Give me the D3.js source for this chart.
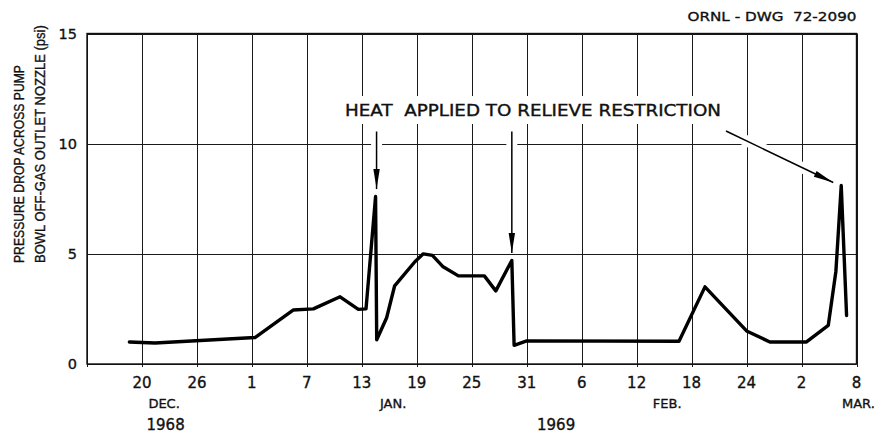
<!DOCTYPE html>
<html>
<head>
<meta charset="utf-8">
<script src="https://cdn.jsdelivr.net/npm/d3@7"></script>
<style>
  html, body { margin: 0; padding: 0; background: #fff; }
  svg { display: block; }
  text { font-family: "DejaVu Sans", "Liberation Sans", sans-serif; fill: #111; stroke: #111; stroke-width: 0.35px; }
  text.ylab { font-family: "Liberation Sans", Arial, sans-serif; }
</style>
</head>
<body>
<svg id="chart" width="884" height="438"></svg>
<script>
// Pressure drop across the pump bowl off-gas outlet nozzle, Dec 1968 – Mar 1969
const readingTimes = [
  "1968-12-18T15", "1968-12-21T10", "1969-01-01T08", "1969-01-05T12",
  "1969-01-07T17", "1969-01-10T15", "1969-01-12T15", "1969-01-13T11",
  "1969-01-14T12", "1969-01-14T15", "1969-01-15T17", "1969-01-16T14",
  "1969-01-18T19", "1969-01-19T17", "1969-01-20T17", "1969-01-21T21",
  "1969-01-23T13", "1969-01-26T09", "1969-01-27T15", "1969-01-29T09",
  "1969-01-29T15", "1969-01-31T00", "1969-02-16T15", "1969-02-19T11",
  "1969-02-24T00", "1969-02-26T13", "1969-03-02T13", "1969-03-04T22",
  "1969-03-05T18", "1969-03-06T08", "1969-03-06T22"
];
const pressureDrop = [
  1.0, 0.95, 1.2, 2.45,
  2.5, 3.05, 2.48, 2.5,
  7.6, 1.1, 2.1, 3.55,
  4.64, 5.0, 4.93, 4.41,
  4.0, 4.0, 3.32, 4.7,
  0.85, 1.05, 1.03, 3.5,
  1.5, 1.0, 1.0, 1.75,
  4.2, 8.1, 2.2
];

// Axis ticks and labels
const xDomain = ["1968-12-14", "1969-03-08"];
const xTickDates = [
  "1968-12-20", "1968-12-26", "1969-01-01", "1969-01-07", "1969-01-13",
  "1969-01-19", "1969-01-25", "1969-01-31", "1969-02-06", "1969-02-12",
  "1969-02-18", "1969-02-24", "1969-03-02", "1969-03-08"
];
const gridDates = ["1968-12-14"].concat(xTickDates);
const yTicks = [0, 5, 10, 15];
const monthLabels = ["DEC.", "JAN.", "FEB.", "MAR."];
const monthLabelDates = ["1968-12-22T10", "1969-01-16T10", "1969-02-15T08", "1969-03-08T05"];
const yearLabels = ["1968", "1969"];
const yearLabelDates = ["1968-12-22T14", "1969-02-03T05"];
const yLabelLines = ["PRESSURE DROP ACROSS PUMP", "BOWL OFF-GAS OUTLET NOZZLE (psi)"];
const noteText = "HEAT  APPLIED TO RELIEVE RESTRICTION";
const drawingId = "ORNL - DWG  72-2090";
// readings that the note points at
const heatedIdx = [8, 19, 29];

const parseT = d3.utcParse("%Y-%m-%dT%H");
const parseD = d3.utcParse("%Y-%m-%d");
const fmtDay = d3.utcFormat("%-d");

const svg = d3.select("#chart");
const m = { left: 87, top: 33.5, right: 856.5, bottom: 364 };

const x = d3.scaleUtc()
  .domain(xDomain.map(parseD))
  .range([m.left, m.right]);
const y = d3.scaleLinear()
  .domain([0, 15])
  .range([m.bottom, m.top]);

const data = readingTimes.map((t, i) => ({ t: parseT(t), v: pressureDrop[i] }));

// grid
const grid = svg.append("g").attr("stroke", "#1a1a1a").attr("stroke-width", 1).attr("fill", "none");
grid.selectAll("line.v").data(gridDates.map(parseD)).join("line")
  .attr("class", "v")
  .attr("x1", d => Math.round(x(d)) + 0.5).attr("x2", d => Math.round(x(d)) + 0.5)
  .attr("y1", m.top).attr("y2", m.bottom + 3);
grid.selectAll("line.h").data(yTicks).join("line")
  .attr("class", "h")
  .attr("x1", m.left).attr("x2", m.right)
  .attr("y1", d => Math.round(y(d)) + 0.5).attr("y2", d => Math.round(y(d)) + 0.5);

// frame
svg.append("rect")
  .attr("x", m.left).attr("y", m.top)
  .attr("width", m.right - m.left).attr("height", m.bottom - m.top)
  .attr("fill", "none").attr("stroke", "#111").attr("stroke-width", 1.4);

// y tick labels
svg.append("g").selectAll("text").data(yTicks).join("text")
  .attr("x", 77).attr("y", d => y(d))
  .attr("dy", "0.36em")
  .attr("text-anchor", "end")
  .attr("font-size", 14.5)
  .text(d => d);

// x tick labels
svg.append("g").selectAll("text").data(xTickDates.map(parseD)).join("text")
  .attr("x", d => x(d)).attr("y", 388)
  .attr("text-anchor", "middle")
  .attr("font-size", 15)
  .text(d => fmtDay(d));

svg.append("g").selectAll("text").data(monthLabels).join("text")
  .attr("x", (d, i) => x(parseT(monthLabelDates[i]))).attr("y", 408)
  .attr("text-anchor", "middle")
  .attr("font-size", 13)
  .text(d => d);

svg.append("g").selectAll("text").data(yearLabels).join("text")
  .attr("x", (d, i) => x(parseT(yearLabelDates[i]))).attr("y", 430)
  .attr("text-anchor", "middle")
  .attr("font-size", 15)
  .text(d => d);

// y axis title (two lines), squeezed to the lettering's narrow proportions
const yLabelLen = [198, 238];
const yLabelBase = [24, 45];
svg.append("g").selectAll("text").data(yLabelLines).join("text")
  .attr("class", "ylab")
  .attr("text-anchor", "start")
  .attr("font-size", 15)
  .text(d => d)
  .each(function (d, i) {
    const natural = this.getComputedTextLength();
    const sx = yLabelLen[i] / natural;
    d3.select(this).attr("transform",
      `translate(${yLabelBase[i]},263) rotate(-90) scale(${sx},1)`);
  });

// drawing number
svg.append("text")
  .attr("x", 856.5).attr("y", 20.5)
  .attr("text-anchor", "end")
  .attr("font-size", 12.5)
  .attr("textLength", 169)
  .attr("lengthAdjust", "spacingAndGlyphs")
  .style("white-space", "pre")
  .text(drawingId);

const lineGen = d3.line().x(d => x(d.t)).y(d => y(d.v));

// annotation: note text with a cleared background
const note = svg.append("g");
note.append("rect")
  .attr("x", 340).attr("y", 96).attr("width", 386).attr("height", 28)
  .attr("fill", "#fff");
note.append("text")
  .attr("x", 345).attr("y", 116)
  .attr("font-size", 15)
  .attr("textLength", 376)
  .attr("lengthAdjust", "spacingAndGlyphs")
  .style("white-space", "pre")
  .text(noteText);

// arrows from the note to the heated readings
const arrowStarts = [
  { dx: 1, y: 131.5 },
  { dx: 0, y: 131.5 },
  { x: 726, y: 131 }
];
const arrows = heatedIdx.map((idx, k) => {
  const p = data[idx];
  const px = x(p.t), py = y(p.v);
  const s = arrowStarts[k];
  let x0, y0, x1, y1;
  if (s.x === undefined) {
    x1 = px + s.dx; y1 = py - 7.5;
    x0 = x1; y0 = s.y;
  } else {
    x1 = px - 8; y1 = py - 3;
    x0 = s.x; y0 = s.y;
  }
  return { x0, y0, x1, y1 };
});

const ag = svg.append("g");
// white halo breaks the grid lines under the arrows
ag.selectAll("line.halo").data(arrows).join("line")
  .attr("class", "halo")
  .attr("x1", d => d.x0).attr("y1", d => d.y0)
  .attr("x2", d => d.x1).attr("y2", d => d.y1)
  .attr("stroke", "#fff").attr("stroke-width", 11);
ag.selectAll("line.shaft").data(arrows).join("line")
  .attr("class", "shaft")
  .attr("x1", d => d.x0).attr("y1", d => d.y0)
  .attr("x2", d => d.x1).attr("y2", d => d.y1)
  .attr("stroke", "#000").attr("stroke-width", 1.5);
ag.selectAll("path.head").data(arrows).join("path")
  .attr("class", "head")
  .attr("fill", "#000")
  .attr("d", d => {
    const ang = Math.atan2(d.y1 - d.y0, d.x1 - d.x0);
    const L = 20, W = 3.2;
    const bx = d.x1 - L * Math.cos(ang), by = d.y1 - L * Math.sin(ang);
    const nx = -Math.sin(ang) * W, ny = Math.cos(ang) * W;
    return `M${d.x1},${d.y1}L${bx + nx},${by + ny}L${bx - nx},${by - ny}Z`;
  });

// data line, drawn last so it stays intact over the halos
svg.append("path")
  .datum(data)
  .attr("fill", "none")
  .attr("stroke", "#000")
  .attr("stroke-width", 3.4)
  .attr("stroke-linejoin", "round")
  .attr("stroke-linecap", "round")
  .attr("d", lineGen);
</script>
</body>
</html>
